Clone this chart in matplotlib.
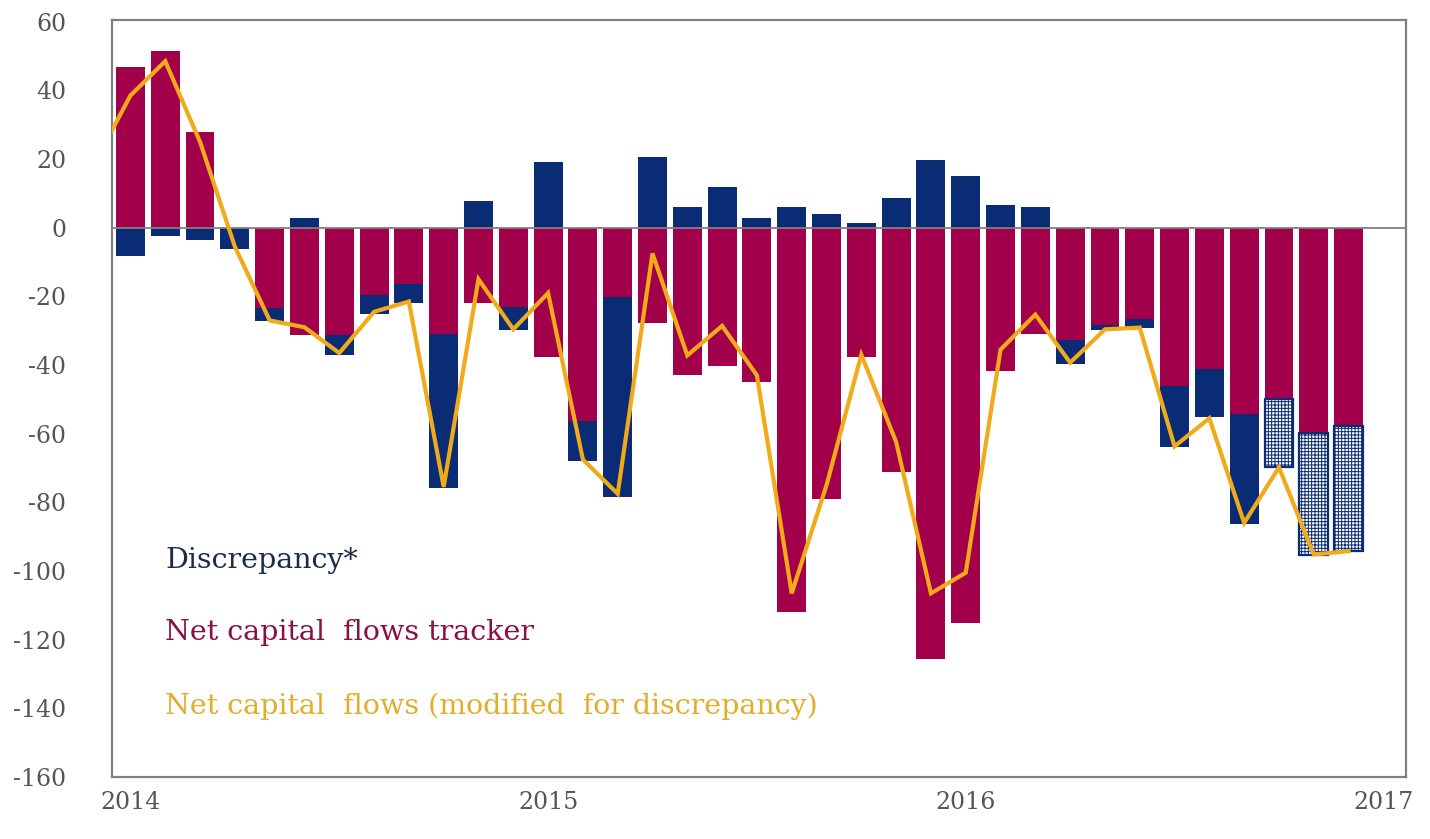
import matplotlib
matplotlib.use("Agg")
import matplotlib.pyplot as plt
import numpy as np

# ---------------- data (monthly, Jan 2014 - Dec 2016) ----------------
tracker = [46.8, 51.4, 27.8, 0.0, -23.5, -31.3, -31.3, -19.5, -16.3, -30.9, -21.8, -23.0,
           -37.7, -56.2, -20.1, -27.7, -43.0, -40.3, -44.8, -111.8, -79.0, -37.7, -71.1, -125.5,
           -115.0, -41.6, -30.9, -32.8, -28.4, -26.5, -46.0, -41.1, -54.2, -50.0, -59.8, -57.8]
discrepancy = [-8.2, -2.4, -3.6, -6.2, -3.8, 2.8, -5.8, -5.5, -5.5, -44.8, 7.9, -6.9,
               19.1, -11.7, -58.3, 20.5, 6.0, 11.9, 2.7, 6.0, 4.0, 1.5, 8.7, 19.8,
               15.2, 6.6, 6.0, -6.8, -1.5, -2.7, -18.0, -14.1, -32.2, -19.8, -35.6, -36.4]
# Line: net capital flows modified for discrepancy (first value = Dec 2013, clipped)
modified = [19.5, 38.5, 48.5, 25.0, -5.5, -27.0, -29.0, -36.5, -24.5, -21.5, -75.5, -15.0, -29.6,
            -19.0, -67.5, -77.5, -7.5, -37.2, -28.6, -43.0, -106.5, -75.0, -37.0, -62.4, -106.5,
            -100.5, -35.5, -25.3, -39.3, -29.6, -29.1, -63.7, -55.5, -86.0, -69.8, -95.2, -94.2]
forecast_from = 33          # last three discrepancy bars are estimates (hatched)
year_labels = ["2014", "2015", "2016", "2017"]
yticks = list(range(-160, 61, 20))

# ---------------- style ----------------
RED = "#A3004B"
NAVY = "#0A2C74"
GOLD = "#F0AA1A"
GREY = "#808080"
TXT = "#555555"
FONT = ["DejaVu Serif"]

plt.rcParams["font.family"] = FONT
plt.rcParams["hatch.linewidth"] = 0.7

fig = plt.figure(figsize=(14.30, 8.39), dpi=100)
ax = fig.add_axes([112 / 1430, 1 - 777 / 839, (1406 - 112) / 1430, (777 - 20) / 839])

n = len(tracker)
x = np.arange(n)
tr = np.array(tracker)
di = np.array(discrepancy)

# Excel-style stacking by sign
tr_base = np.zeros(n)
di_base = np.where(np.sign(di) == np.sign(tr), tr, 0.0)

w = 0.83
ax.bar(x, tr, w, bottom=tr_base, color=RED, zorder=2, linewidth=0)
solid = x < forecast_from
ax.bar(x[solid], di[solid], w, bottom=di_base[solid], color=NAVY, zorder=2, linewidth=0)
ax.bar(x[~solid], di[~solid], w, bottom=di_base[~solid], facecolor="white",
       edgecolor=NAVY, hatch="+++++", linewidth=1.6, zorder=2)

ax.axhline(0, color=GREY, lw=1.3, zorder=3)

xl = np.arange(-1, n)
ax.plot(xl, modified, color=GOLD, lw=3, zorder=4, solid_joinstyle="miter")

ax.set_xlim(-0.53, 36.65)
ax.set_ylim(-160, 60.5)

ax.set_yticks(yticks)
ax.set_yticklabels([str(v) for v in yticks], fontsize=17, color=TXT)
ax.set_xticks([0, 12, 24, 36])
ax.set_xticklabels(year_labels, fontsize=17, color=TXT)
ax.tick_params(length=0)
ax.tick_params(axis="x", pad=10)
ax.tick_params(axis="y", pad=33)
for lab in ax.get_yticklabels():
    lab.set_horizontalalignment("right")

for s in ax.spines.values():
    s.set_color(GREY)
    s.set_linewidth(1.6)

fs = 20.5
fig.text(165 / 1430, 1 - 560 / 839, "Discrepancy*", color="#1C2B4A", fontsize=fs, va="center")
fig.text(165 / 1430, 1 - 633 / 839, "Net capital  flows tracker", color="#8A1040", fontsize=fs, va="center")
fig.text(165 / 1430, 1 - 706 / 839, "Net capital  flows (modified  for discrepancy)", color="#E2AE2A",
         fontsize=fs, va="center")

fig.savefig("out.png", dpi=100, facecolor="white")
